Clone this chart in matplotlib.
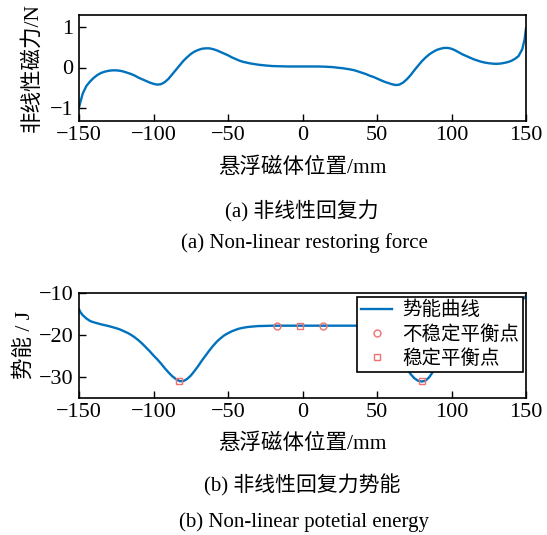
import numpy as np
import matplotlib
matplotlib.use("Agg")
import matplotlib.pyplot as plt

# data (position in mm)
x_force = [-150, -149, -147.5, -145, -142.5, -140, -137.5, -135, -132.5, -130, -127.5, -125, -122.5,
           -120, -117.5, -115, -112.5, -110, -107.5, -105, -102.5, -100, -97.5, -95, -92.5, -90,
           -87.5, -85, -82.5, -80, -77.5, -75, -72.5, -70, -67.5, -65, -62.5, -60, -57.5, -55,
           -52.5, -50, -47.5, -45, -42.5, -40, -37.5, -35, -32.5, -30, -27.5, -25, -20, -15,
           -10, -5, 0, 5, 10, 15, 20, 22.5, 25, 27.5, 30, 32.5, 35, 37.5, 40, 42.5, 45, 47.5,
           50, 52.5, 55, 57.5, 60, 62.5, 65, 67.5, 70, 72.5, 75, 77.5, 80, 82.5, 85, 87.5, 90,
           92.5, 95, 97.5, 100, 102.5, 105, 107.5, 110, 112.5, 115, 117.5, 120, 122.5, 125,
           127.5, 130, 132.5, 135, 137.5, 140, 142.5, 145, 147.5, 149, 150]
force = [-0.98, -0.84, -0.64, -0.45, -0.34, -0.25, -0.18, -0.13, -0.10, -0.08, -0.07, -0.07, -0.08,
         -0.10, -0.13, -0.16, -0.20, -0.25, -0.29, -0.33, -0.37, -0.40, -0.42, -0.41, -0.36, -0.28,
         -0.17, -0.06, 0.05, 0.16, 0.25, 0.33, 0.39, 0.43, 0.46, 0.47, 0.47, 0.45, 0.42, 0.38,
         0.34, 0.30, 0.25, 0.21, 0.17, 0.14, 0.12, 0.10, 0.085, 0.07, 0.06, 0.05, 0.035, 0.03,
         0.025, 0.025, 0.025, 0.025, 0.025, 0.02, 0.01, 0.0, -0.01, -0.02, -0.035, -0.05, -0.07, -0.10, -0.13, -0.16, -0.20, -0.23,
         -0.27, -0.31, -0.35, -0.38, -0.41, -0.43, -0.42, -0.37, -0.29, -0.19, -0.07, 0.04, 0.15, 0.24, 0.32, 0.38, 0.43,
         0.46, 0.48, 0.48, 0.46, 0.42, 0.37, 0.32, 0.28, 0.24, 0.20, 0.17, 0.14, 0.12, 0.105,
         0.095, 0.09, 0.095, 0.11, 0.13, 0.16, 0.21, 0.28, 0.45, 0.68, 0.96]

x_energy = [-150, -149, -147.5, -145, -142.5, -140, -137.5, -135, -132.5, -130, -127.5, -125, -122.5,
            -120, -117.5, -115, -112.5, -110, -107.5, -105, -102.5, -100, -97.5, -95, -92.5, -90,
            -87.5, -85, -82.5, -80, -77.5, -75, -72.5, -70, -67.5, -65, -62.5, -60, -57.5, -55,
            -52.5, -50, -47.5, -45, -42.5, -40, -37.5, -35, -30, -25, -20, -10, 0, 10, 20, 30, 35,
            40, 45, 47.5, 50, 52.5, 55, 57.5, 60, 62.5, 65, 67.5, 70, 72.5, 75, 77.5, 80, 82.5,
            85, 87.5, 90, 92.5, 95, 97.5, 100, 102.5, 105, 107.5, 110, 115, 120, 125, 130, 135,
            140, 142.5, 145, 147.5, 150]
energy = [-14.0, -14.7, -15.4, -16.2, -16.8, -17.1, -17.35, -17.6, -17.8, -18.0, -18.25, -18.5, -18.8,
          -19.2, -19.6, -20.1, -20.7, -21.4, -22.2, -23.1, -24.0, -25.0, -25.9, -26.9, -28.0, -29.0,
          -29.9, -30.6, -31.1, -31.1, -30.6, -29.8, -28.7, -27.5, -26.2, -25.0, -23.8, -22.7, -21.7, -20.9,
          -20.2, -19.7, -19.25, -18.9, -18.6, -18.4, -18.25, -18.15, -18.0, -17.95, -17.9, -17.9, -17.9, -17.9, -17.9, -17.9, -17.9,
          -17.95, -18.1, -18.25, -18.5, -18.9, -19.5, -20.3, -21.4, -22.8, -24.4, -26.3, -28.0, -29.4, -30.4, -31.0, -31.2, -31.0,
          -30.2, -28.9, -27.2, -25.4, -23.7, -22.2, -21.0, -20.0, -19.2, -18.6, -18.1, -17.4, -16.9, -16.4, -15.8, -15.0,
          -14.0, -13.4, -12.7, -11.8, -10.8]

x_unstable = [-17, 14]
e_unstable = [-17.9, -17.9]
x_stable = [-83, -1.5, 80]
e_stable = [-31.1, -17.9, -31.1]

xticks = [-150, -100, -50, 0, 50, 100, 150]

plt.rcParams['font.family'] = ['Liberation Serif', 'Noto Sans CJK SC']
plt.rcParams['axes.unicode_minus'] = True

blue = '#0072BD'
red = '#F07070'

W, H = 547, 535
fig = plt.figure(figsize=(W / 100, H / 100), dpi=100)

def px_axes(left, top, right, bottom):
    return fig.add_axes([left / W, 1 - bottom / H, (right - left) / W, (bottom - top) / H])

def style(ax):
    ax.tick_params(direction='in', length=5, width=1, labelsize=16, top=False, right=False, pad=4)
    for s in ax.spines.values():
        s.set_linewidth(1.2)
    ax.set_xlim(-150, 150)
    ax.set_xticks(xticks)

# --- top: restoring force ---
ax1 = px_axes(79, 14.5, 526, 120.5)
ax1.plot(x_force, force, color=blue, lw=1.7)
style(ax1)
ax1.set_ylim(-1.3, 1.3)
ax1.set_yticks([-1, 0, 1])
ax1.set_xlabel('悬浮磁体位置/mm', fontsize=15.5, labelpad=9)
ax1.set_ylabel('非线性磁力/N', fontsize=15.5, labelpad=5)

# --- bottom: potential energy ---
ax2 = px_axes(79, 292.5, 526, 397.5)
ax2.plot(x_energy, energy, color=blue, lw=1.7, label='势能曲线')
ax2.plot(x_unstable, e_unstable, 'o', ms=5, mfc='none', mec=red, mew=1, label='不稳定平衡点')
ax2.plot(x_stable, e_stable, 's', ms=4.5, mfc='none', mec=red, mew=1, label='稳定平衡点')
style(ax2)
ax2.set_ylim(-35, -10)
ax2.set_yticks([-30, -20, -10])
ax2.set_xlabel('悬浮磁体位置/mm', fontsize=15.5, labelpad=8)
ax2.set_ylabel('势能 / J', fontsize=15.5, labelpad=3)
leg = ax2.legend(loc='upper right', bbox_to_anchor=(0.993, 0.957), borderaxespad=0,
                 fontsize=14, fancybox=False, framealpha=1, edgecolor='black',
                 handlelength=1.6, handletextpad=0.5, labelspacing=0.3, borderpad=0.2)
leg.get_frame().set_linewidth(1.2)

# captions
fig.text(302 / W, 1 - 211 / H, '(a) 非线性回复力', ha='center', va='center', fontsize=15)
fig.text(304 / W, 1 - 243 / H, '(a) Non-linear restoring force', ha='center', va='center', fontsize=15)
fig.text(302 / W, 1 - 485 / H, '(b) 非线性回复力势能', ha='center', va='center', fontsize=15)
fig.text(304 / W, 1 - 522 / H, '(b) Non-linear potetial energy', ha='center', va='center', fontsize=15)

fig.savefig('out.png', dpi=100)
